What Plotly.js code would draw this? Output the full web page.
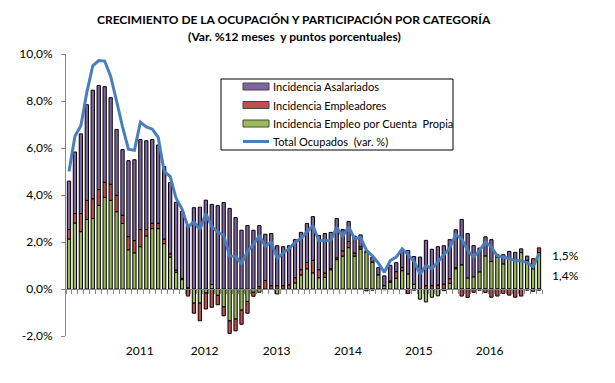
<!DOCTYPE html>
<html>
<head>
<meta charset="utf-8">
<script src="https://cdn.plot.ly/plotly-3.0.1.min.js"></script>
<style>html,body{margin:0;padding:0;background:#fff;}#chart{width:615px;height:383px;}</style>
</head>
<body>
<div id="chart"></div>
<script>
// ---- data (percent / percentage points), monthly Jan-2010 .. Aug-2016 ----
const monthNames = ['ene','feb','mar','abr','may','jun','jul','ago','sep','oct','nov','dic'];
const firstYear = 2010;
const nMonths = 80;
const months = [];
for (let i = 0; i < nMonths; i++) months.push(monthNames[i % 12] + '-' + (firstYear + Math.floor(i / 12)));

const cuentaPropia = [2.13,2.81,2.44,2.96,3.00,3.56,3.90,3.77,3.29,2.79,1.67,1.54,1.80,2.26,2.57,2.57,1.93,1.36,0.71,0.40,
  0.05,-0.60,-0.60,-0.17,0.19,-0.27,-0.76,-1.36,-1.28,-0.90,-0.53,-0.14,-0.14,0.00,0.00,-0.21,0.00,0.00,0.26,0.60,
  0.86,0.69,0.48,0.50,0.82,1.25,1.40,1.76,1.40,1.70,1.58,1.14,0.61,0.14,0.29,0.46,0.78,0.64,0.20,-0.43,
  -0.55,-0.35,-0.29,-0.07,0.24,0.86,1.03,0.47,0.52,0.73,1.41,1.17,1.35,1.07,1.33,1.22,1.55,1.22,0.86,1.55];
const empleadores = [0.40,0.40,0.77,0.81,0.84,0.67,0.64,0.69,0.70,0.35,0.56,0.52,0.73,0.27,0.23,0.23,0.20,0.14,0.10,0.05,
  -0.30,-0.43,-0.75,-0.68,-0.78,-0.40,-0.38,-0.53,-0.50,-0.60,-0.50,-0.17,0.10,0.36,0.14,0.14,0.14,0.18,0.22,0.22,
  0.27,0.53,0.34,0.18,0.05,0.08,0.22,0.26,0.13,0.10,-0.08,-0.05,0.00,-0.03,0.05,0.28,0.14,-0.19,-0.05,0.00,
  0.14,0.14,0.17,0.21,0.20,0.05,-0.30,-0.36,-0.14,-0.05,-0.15,-0.35,-0.30,-0.19,-0.26,-0.35,-0.30,-0.05,0.43,0.20];
const asalariados = [2.06,2.62,3.39,4.07,4.62,4.43,4.07,3.68,2.80,2.79,3.23,3.44,3.83,3.78,3.56,3.33,3.08,3.03,2.88,2.85,
  2.65,3.46,3.48,3.78,3.41,3.55,3.68,3.43,3.04,2.50,2.70,2.50,2.60,1.97,2.22,1.70,1.66,1.66,1.62,1.59,
  1.66,1.86,1.46,1.68,1.54,1.67,0.91,0.85,0.72,0.50,0.05,0.22,0.30,0.42,0.67,0.38,0.72,1.00,1.18,1.36,
  1.93,1.55,1.63,1.63,1.66,1.61,1.93,1.89,1.33,1.01,0.81,0.93,0.11,0.39,0.27,0.34,0.16,0.18,-0.10,-0.05];
const totalOcupados = [5.00,6.50,6.95,8.37,9.50,9.72,9.70,9.05,8.00,6.90,5.95,5.90,7.10,6.90,6.80,6.45,5.00,4.79,3.86,3.40,
  2.64,2.86,2.53,3.21,2.66,2.42,2.29,1.40,1.39,1.08,1.60,1.90,2.26,1.82,2.00,1.30,1.53,1.73,1.98,2.16,
  2.43,2.69,2.05,2.07,2.07,2.62,2.24,2.65,2.14,2.19,1.64,1.41,1.10,0.71,1.21,1.36,1.71,1.46,1.17,0.64,
  1.00,0.86,1.17,1.46,1.75,2.32,2.14,1.64,1.36,1.64,2.00,1.79,1.40,1.36,1.30,1.20,1.20,1.12,0.95,1.50];
const yearLabels = ['2011','2012','2013','2014','2015','2016'];
const yTicks = [-2,0,2,4,6,8,10];
const yTickText = yTicks.map(v => v.toFixed(1).replace('.', ',') + '%');

// ---- layout helpers (pixel -> paper) ----
const L = 66, R = 542, T = 54, B = 336;
const px = x => (x - L) / (R - L);
const py = y => (B - y) / (B - T);
const idx = months.map((_, i) => i);
const yearPos = [11.9, 22.8, 34.9, 46.9, 58.8, 70.7];
const boundaries = [];
for (let i = -1; i < nMonths; i++) boundaries.push(i + 0.5);

const FONT = 'Lato, "Open Sans", sans-serif';
const cGreen = '#9BBB59', cRed = '#C0504D', cPurple = '#8064A2', cBlue = '#4A7EBB';
const outline = {color: '#000000', width: 1};

const traces = [
  {type: 'bar', name: 'Incidencia Empleo por Cuenta  Propia', x: idx, y: cuentaPropia, text: months, hoverinfo: 'text+y',
   marker: {color: cGreen, line: outline}},
  {type: 'bar', name: 'Incidencia Empleadores', x: idx, y: empleadores, text: months, hoverinfo: 'text+y',
   marker: {color: cRed, line: outline}},
  {type: 'bar', name: 'Incidencia Asalariados', x: idx, y: asalariados, text: months, hoverinfo: 'text+y',
   marker: {color: cPurple, line: outline}},
  {type: 'scatter', mode: 'lines', name: 'Total Ocupados  (var. %)', x: idx, y: totalOcupados, xaxis: 'x2',
   line: {color: cBlue, width: 3}}
];
traces.forEach(t => t.textposition = 'none');

// manual legend
const legRows = [
  {label: 'Incidencia Asalariados', color: cPurple, y: 86.5, kind: 'box'},
  {label: 'Incidencia Empleadores', color: cRed, y: 105, kind: 'box'},
  {label: 'Incidencia Empleo por Cuenta  Propia', color: cGreen, y: 123.5, kind: 'box'},
  {label: 'Total Ocupados  (var. %)', color: cBlue, y: 141.5, kind: 'line'}
];
const shapes = [{type: 'rect', xref: 'paper', yref: 'paper', x0: px(221), x1: px(453), y0: py(79), y1: py(150),
  line: {color: '#000', width: 1}, fillcolor: '#fff', layer: 'above'}];
const annotations = [];
legRows.forEach(r => {
  if (r.kind === 'box') {
    shapes.push({type: 'rect', xref: 'paper', yref: 'paper', x0: px(243), x1: px(269), y0: py(r.y - 3.5), y1: py(r.y + 3.5),
      line: {color: '#444', width: 1}, fillcolor: r.color, layer: 'above'});
  } else {
    shapes.push({type: 'line', xref: 'paper', yref: 'paper', x0: px(243), x1: px(269), y0: py(r.y), y1: py(r.y),
      line: {color: r.color, width: 3}, layer: 'above'});
  }
  annotations.push({xref: 'paper', yref: 'paper', x: px(271), y: py(r.y), xanchor: 'left', yanchor: 'middle',
    text: r.label, showarrow: false, font: {family: FONT, size: 11, color: '#000'}});
});
// titles
annotations.push({xref: 'paper', yref: 'paper', x: px(294), y: py(19), xanchor: 'center', yanchor: 'middle', showarrow: false,
  text: '<b>CRECIMIENTO DE LA OCUPACIÓN Y PARTICIPACIÓN POR CATEGORÍA</b>', font: {family: FONT, size: 12, color: '#000'}});
annotations.push({xref: 'paper', yref: 'paper', x: px(294), y: py(37), xanchor: 'center', yanchor: 'middle', showarrow: false,
  text: '<b>(Var. %12 meses  y puntos porcentuales)</b>', font: {family: FONT, size: 12, color: '#000'}});
// end labels
annotations.push({xref: 'paper', yref: 'paper', x: px(550), y: py(255), xanchor: 'left', yanchor: 'middle', showarrow: false,
  text: '1,5%', font: {family: FONT, size: 12, color: '#000'}});
annotations.push({xref: 'paper', yref: 'paper', x: px(550), y: py(275), xanchor: 'left', yanchor: 'middle', showarrow: false,
  text: '1,4%', font: {family: FONT, size: 12, color: '#000'}});

const xr = [-0.5, nMonths - 0.5];
const layout = {
  width: 615, height: 383,
  margin: {l: L, r: 615 - R, t: T, b: 383 - B, pad: 0},
  paper_bgcolor: '#fff', plot_bgcolor: '#fff',
  barmode: 'relative', bargap: 0.45,
  showlegend: false,
  font: {family: FONT, size: 11, color: '#000'},
  xaxis: {range: xr, tickmode: 'array', tickvals: yearPos, ticktext: yearLabels, ticks: '', showline: false,
    showgrid: false, zeroline: false, ticklabelstandoff: 6, tickfont: {family: FONT, size: 12, color: '#000'}, fixedrange: true},
  xaxis2: {range: xr, overlaying: 'x', anchor: 'free', position: py(289), showline: true, linecolor: '#868686', linewidth: 1,
    ticks: 'outside', ticklen: 4, tickcolor: '#868686', tickmode: 'array', tickvals: boundaries, showticklabels: false,
    showgrid: false, zeroline: false, fixedrange: true},
  yaxis: {range: [-2, 10], tickmode: 'array', tickvals: yTicks, ticktext: yTickText, showline: true,
    linecolor: '#868686', linewidth: 1, ticks: 'outside', ticklen: 4, tickcolor: '#868686', showgrid: false, zeroline: false,
    ticklabelstandoff: 6, tickfont: {family: FONT, size: 12, color: '#000'}, fixedrange: true},
  shapes: shapes,
  annotations: annotations
};
Plotly.newPlot('chart', traces, layout, {displayModeBar: false, staticPlot: true});
</script>
</body>
</html>
